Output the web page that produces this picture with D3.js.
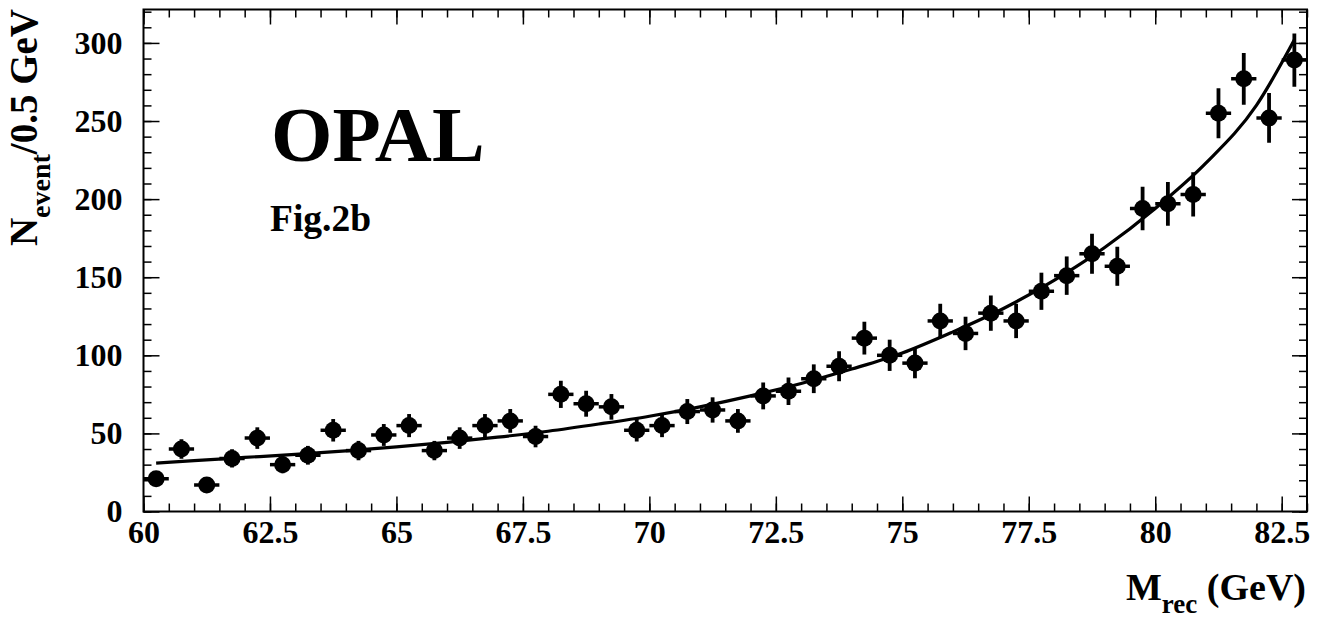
<!DOCTYPE html>
<html>
<head>
<meta charset="utf-8">
<script src="https://cdn.jsdelivr.net/npm/d3@7"></script>
<style>
  body { margin: 0; background: #fff; }
  svg text { font-family: "Liberation Serif", "Times New Roman", serif; font-weight: bold; fill: #000; }
</style>
</head>
<body>
<svg id="chart" width="1317" height="620"></svg>
<script>
// bin centres (GeV), 0.5 GeV wide
var binCenters = [60.25,60.75,61.25,61.75,62.25,62.75,63.25,63.75,64.25,64.75,
                  65.25,65.75,66.25,66.75,67.25,67.75,68.25,68.75,69.25,69.75,
                  70.25,70.75,71.25,71.75,72.25,72.75,73.25,73.75,74.25,74.75,
                  75.25,75.75,76.25,76.75,77.25,77.75,78.25,78.75,79.25,79.75,
                  80.25,80.75,81.25,81.75,82.25,82.75];
var counts = [21,40,17,34,47,30,36,52,39,49,
              55,39,47,55,58,48,75,69,67,52,
              55,64,65,58,74,77,85,93,111,100,
              95,122,114,127,122,141,151,165,157,194,
              197,203,255,277,252,289];
var errors = [4.6,6.3,4.1,5.8,6.9,5.5,6,7.2,6.2,7,
              7.4,6.2,6.9,7.4,7.6,6.9,8.7,8.3,8.2,7.2,
              7.4,8,8.1,7.6,8.6,8.8,9.2,9.6,10.5,10,
              9.7,11,10.7,11.3,11,11.9,12.3,12.8,12.5,13.9,
              14,14.2,16,16.6,15.9,17];
var binHalf = 0.25;
// fitted curve
var fitX = [60.25,61,62,63,64,65,66,67,68,69,70,71,72,73,74,75,76,77,78,79,80,81,82,82.75];
var fitY = [31,32.6,34.6,36.6,38.8,41.4,44.3,47.6,51.4,56,61,67,74,82,91.2,101.5,115,130,148,169,194,223,260,302];
var xTicks = [60,62.5,65,67.5,70,72.5,75,77.5,80,82.5];
var yTicks = [0,50,100,150,200,250,300];

var svg = d3.select("#chart"),
    fLeft = 143.5, fRight = 1307, fTop = 9.5, fBottom = 511.5;

var x = d3.scaleLinear().domain([60, 83]).range([fLeft, fRight]);
var y = d3.scaleLinear().domain([0, 321.4]).range([fBottom, fTop]);

var xMinor = d3.range(60, 83.01, 0.5), yMinor = d3.range(0, 321, 10);

function styleAxis(g) {
  g.select(".domain").remove();
  g.selectAll(".tick line").attr("stroke", "#000").attr("stroke-width", 1.5);
  g.selectAll("text").style("font-size", "32px");
}

// bottom axis, ticks pointing in
svg.append("g").attr("transform", "translate(0," + fBottom + ")")
  .call(d3.axisBottom(x).tickValues(xMinor).tickSize(-8).tickFormat(""))
  .call(styleAxis);
svg.append("g").attr("transform", "translate(0," + fBottom + ")")
  .call(d3.axisBottom(x).tickValues(xTicks).tickSize(-15).tickPadding(9).tickFormat(function(d){ return d; }))
  .call(styleAxis);
// top axis
svg.append("g").attr("transform", "translate(0," + fTop + ")")
  .call(d3.axisTop(x).tickValues(xMinor).tickSize(-8).tickFormat(""))
  .call(styleAxis);
svg.append("g").attr("transform", "translate(0," + fTop + ")")
  .call(d3.axisTop(x).tickValues(xTicks).tickSize(-15).tickFormat(""))
  .call(styleAxis);
// left axis
svg.append("g").attr("transform", "translate(" + fLeft + ",0)")
  .call(d3.axisLeft(y).tickValues(yMinor).tickSize(-8).tickFormat(""))
  .call(styleAxis);
svg.append("g").attr("transform", "translate(" + fLeft + ",0)")
  .call(d3.axisLeft(y).tickValues(yTicks).tickSize(-16).tickPadding(21).tickFormat(function(d){ return d; }))
  .call(styleAxis);
// right axis
svg.append("g").attr("transform", "translate(" + fRight + ",0)")
  .call(d3.axisRight(y).tickValues(yMinor).tickSize(-8).tickFormat(""))
  .call(styleAxis);
svg.append("g").attr("transform", "translate(" + fRight + ",0)")
  .call(d3.axisRight(y).tickValues(yTicks).tickSize(-15).tickFormat(""))
  .call(styleAxis);

svg.append("rect")
  .attr("x", fLeft).attr("y", fTop)
  .attr("width", fRight - fLeft).attr("height", fBottom - fTop)
  .attr("fill", "none").attr("stroke", "#000").attr("stroke-width", 2);

svg.append("clipPath").attr("id", "frame")
  .append("rect").attr("x", fLeft).attr("y", fTop).attr("width", fRight - fLeft).attr("height", fBottom - fTop);

var plot = svg.append("g").attr("clip-path", "url(#frame)");

// fit line
var fitData = fitX.map(function(d, i){ return [d, fitY[i]]; });
plot.append("path")
  .datum(fitData)
  .attr("fill", "none").attr("stroke", "#000").attr("stroke-width", 3.2)
  .attr("d", d3.line().x(function(d){ return x(d[0]); }).y(function(d){ return y(d[1]); }).curve(d3.curveMonotoneX));

// data points with error bars
var pts = plot.selectAll(".pt").data(binCenters).enter().append("g").attr("class", "pt");
pts.append("line")
  .attr("x1", function(d){ return x(d - binHalf); })
  .attr("x2", function(d){ return x(d + binHalf); })
  .attr("y1", function(d, i){ return y(counts[i]); })
  .attr("y2", function(d, i){ return y(counts[i]); })
  .attr("stroke", "#000").attr("stroke-width", 3.5);
pts.append("line")
  .attr("x1", function(d){ return x(d); })
  .attr("x2", function(d){ return x(d); })
  .attr("y1", function(d, i){ return y(counts[i] - errors[i]); })
  .attr("y2", function(d, i){ return y(counts[i] + errors[i]); })
  .attr("stroke", "#000").attr("stroke-width", 3.8);
pts.append("circle")
  .attr("cx", function(d){ return x(d); })
  .attr("cy", function(d, i){ return y(counts[i]); })
  .attr("r", 8.5).attr("fill", "#000");

// labels
svg.append("text").attr("x", 271).attr("y", 161).style("font-size", "79px").text("OPAL");
svg.append("text").attr("x", 270).attr("y", 231).style("font-size", "37.5px").text("Fig.2b");

var xt = svg.append("text").attr("x", 1306).attr("y", 600).attr("text-anchor", "end").style("font-size", "38px");
xt.append("tspan").text("M");
xt.append("tspan").attr("dy", 13).style("font-size", "27px").text("rec");
xt.append("tspan").attr("dy", -13).text(" (GeV)");

var yt = svg.append("text").attr("transform", "translate(37,9) rotate(-90)").attr("text-anchor", "end").style("font-size", "39px");
yt.append("tspan").text("N");
yt.append("tspan").attr("dy", 13).style("font-size", "28px").text("event");
yt.append("tspan").attr("dy", -13).text("/0.5 GeV");
</script>
</body>
</html>
